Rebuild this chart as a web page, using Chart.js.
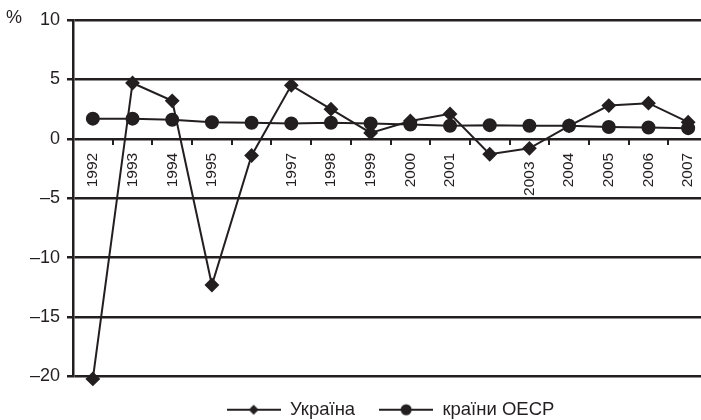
<!DOCTYPE html>
<html>
<head>
<meta charset="UTF-8">
<title>Україна та країни ОЕСР</title>
<script src="https://cdn.jsdelivr.net/npm/chart.js@4"></script>
<style>
  body { margin: 0; background: #fff; overflow: hidden; }
  #wrap { width: 716px; height: 429px; }
</style>
</head>
<body>
<div id="wrap"><canvas id="chart"></canvas></div>
<script>
var years = ['1992', '1993', '1994', '1995', '1996', '1997', '1998', '1999',
             '2000', '2001', '2002', '2003', '2004', '2005', '2006', '2007'];
// labels not printed on the picture, and one pushed down away from the line
var hiddenYears = ['1996', '2002'];
var shiftedYears = ['2003'];
var ukraine = [-20.2, 4.7, 3.2, -12.3, -1.4, 4.5, 2.5, 0.5, 1.5, 2.1, -1.3, -0.8, 1.1, 2.8, 3.0, 1.4];
var oecd = [1.7, 1.7, 1.6, 1.4, 1.35, 1.3, 1.35, 1.3, 1.2, 1.1, 1.15, 1.1, 1.1, 1.0, 0.95, 0.9];
var yTicks = [-20, -15, -10, -5, 0, 5, 10];

var ink = '#231f20';
var fontFamily = '"Liberation Sans", Arial, sans-serif';

// legend sample: line with the marker in the middle
function legendIcon(kind) {
    var c = document.createElement('canvas');
    c.width = 54; c.height = 14;
    var g = c.getContext('2d');
    g.strokeStyle = ink; g.lineWidth = 2;
    g.beginPath(); g.moveTo(0, 7); g.lineTo(54, 7); g.stroke();
    g.fillStyle = ink;
    g.beginPath();
    if (kind === 'diamond') {
        g.moveTo(27, 2); g.lineTo(32, 7); g.lineTo(27, 12); g.lineTo(22, 7); g.closePath();
    } else {
        g.arc(27, 7, 5.5, 0, Math.PI * 2);
    }
    g.fill();
    return c;
}
var icons = [legendIcon('diamond'), legendIcon('circle')];

var percentSign = {
    id: 'percentSign',
    afterDraw: function(chart) {
        var ctx = chart.ctx;
        ctx.save();
        ctx.font = '18px ' + fontFamily;
        ctx.fillStyle = ink;
        ctx.textBaseline = 'middle';
        ctx.fillText('%', 6, chart.scales.y.getPixelForValue(10) - 2);
        ctx.restore();
    }
};

Chart.defaults.font.family = fontFamily;
Chart.defaults.color = ink;

new Chart(document.getElementById('chart').getContext('2d'), {
    type: 'line',
    data: {
        labels: years,
        datasets: [
            {
                label: 'Україна',
                data: ukraine,
                borderColor: ink,
                backgroundColor: ink,
                borderWidth: 2,
                pointStyle: 'rectRot',
                pointRadius: 6,
                tension: 0,
                clip: false
            },
            {
                label: 'країни ОЕСР',
                data: oecd,
                borderColor: ink,
                backgroundColor: ink,
                borderWidth: 2,
                pointStyle: 'circle',
                pointRadius: 6,
                tension: 0,
                clip: false
            }
        ]
    },
    options: {
        responsive: true,
        maintainAspectRatio: false,
        animation: false,
        layout: { padding: { top: 20, bottom: 0, left: 0, right: 0 } },
        scales: {
            x: {
                type: 'category',
                position: { y: 0 },
                offset: true,
                ticks: {
                    autoSkip: false,
                    minRotation: 90,
                    maxRotation: 90,
                    color: ink,
                    font: { size: 15.5 },
                    padding: 8,
                    callback: function(v) {
                        var l = this.getLabelForValue(v);
                        if (hiddenYears.indexOf(l) >= 0) return '';
                        return shiftedYears.indexOf(l) >= 0 ? l + '  ' : l;
                    }
                },
                grid: { drawOnChartArea: false, drawTicks: true, tickLength: 6, color: ink, lineWidth: 2, offset: true },
                border: { display: false }
            },
            y: {
                min: -20,
                max: 10,
                afterBuildTicks: function(s) {
                    s.ticks = yTicks.map(function(v) { return { value: v }; });
                },
                afterFit: function(s) { s.width = 73; },
                ticks: {
                    color: ink,
                    font: { size: 18 },
                    padding: 7,
                    callback: function(v) { return v < 0 ? '\u2013' + Math.abs(v) : String(v); }
                },
                grid: { color: ink, lineWidth: 2.5, tickLength: 6 },
                border: { display: true, color: ink, width: 2.5 }
            }
        },
        plugins: {
            tooltip: { enabled: false },
            legend: {
                position: 'bottom',
                fullSize: false,
                labels: {
                    usePointStyle: true,
                    pointStyleWidth: 54,
                    padding: 24,
                    font: { size: 18.5 },
                    color: ink,
                    generateLabels: function(chart) {
                        var items = Chart.defaults.plugins.legend.labels.generateLabels(chart);
                        items.forEach(function(it, i) { it.pointStyle = icons[i]; });
                        return items;
                    }
                }
            }
        }
    },
    plugins: [percentSign]
});
</script>
</body>
</html>
